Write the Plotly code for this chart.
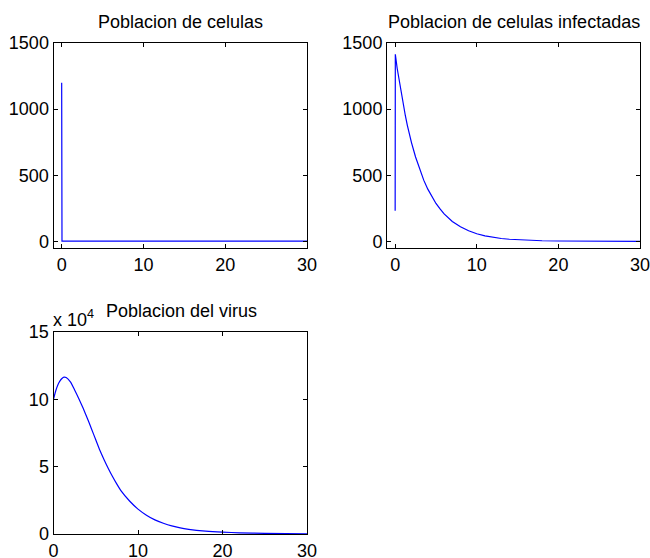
import plotly.graph_objects as go

# ---- data ----
cells_t = [0, 0.04, 2, 5, 10, 15, 20, 25, 30]
cells_v = [1200, 2, 2, 2, 2, 2, 2, 2, 2]

inf_t = [0, 0.02, 0.25, 0.5, 0.75, 1, 1.25, 1.5, 1.75, 2, 2.5, 3, 3.5, 4, 4.5, 5, 5.5, 6,
         7, 8, 9, 10, 11, 12, 13, 14, 16, 18, 20, 22, 25, 30]
inf_v = [231, 1415, 1307, 1210, 1113, 1030, 950, 876, 810, 747, 638, 544, 463, 395, 337, 287,
         245, 208, 151, 110, 80, 58, 42, 31, 22, 16, 9, 5, 3, 2, 1, 0.5]

vir_t = [0, 0.25, 0.5, 0.75, 1, 1.25, 1.5, 2, 2.5, 3, 3.5, 4, 4.5, 5, 5.5, 6, 6.5, 7, 7.5, 8,
         9, 10, 11, 12, 13, 14, 15, 16, 18, 20, 22, 25, 30]
vir_v_e4 = [10.0, 10.6, 11.05, 11.35, 11.55, 11.65, 11.62, 11.3, 10.7, 10.05, 9.35, 8.6, 7.8, 7.0,
            6.2, 5.5, 4.85, 4.25, 3.7, 3.2, 2.45, 1.85, 1.4, 1.05, 0.8, 0.6, 0.45, 0.35, 0.22,
            0.14, 0.09, 0.05, 0.02]

titles = ["Poblacion de celulas", "Poblacion de celulas infectadas", "Poblacion del virus"]
x_ticks = [0, 10, 20, 30]
y_ticks_cells = [0, 500, 1000, 1500]
y_ticks_vir = [0, 5, 10, 15]
vir_scale = 1e4

W, H = 650, 558
FONT = "Liberation Sans, Arial, Helvetica, sans-serif"
BLUE = "#0000ff"
FS = 18

def px(x):
    return x / W

def py(y):
    return 1 - y / H

fig = go.Figure()
fig.add_trace(go.Scatter(x=cells_t, y=cells_v, mode="lines", line=dict(color=BLUE, width=1.2),
                         xaxis="x", yaxis="y", showlegend=False))
fig.add_trace(go.Scatter(x=inf_t, y=inf_v, mode="lines", line=dict(color=BLUE, width=1.2),
                         xaxis="x2", yaxis="y2", showlegend=False))
fig.add_trace(go.Scatter(x=vir_t, y=[v * vir_scale for v in vir_v_e4], mode="lines",
                         line=dict(color=BLUE, width=1.2, shape="spline", smoothing=0.6),
                         xaxis="x3", yaxis="y3", showlegend=False))

common = dict(showline=True, linecolor="black", linewidth=1, mirror="ticks", ticks="inside",
              ticklen=4, tickcolor="black", showgrid=False, zeroline=False, automargin=False,
              ticklabeloverflow="allow",
              tickfont=dict(family=FONT, size=FS, color="black"))

fig.update_layout(
    width=W, height=H, margin=dict(l=0, r=0, t=0, b=0, autoexpand=False),
    paper_bgcolor="white", plot_bgcolor="white",
    xaxis=dict(domain=[px(53.5), px(307)], range=[-1, 30], tickvals=x_ticks, anchor="y", **common),
    yaxis=dict(domain=[py(248), py(43)], range=[-50, 1500], tickvals=y_ticks_cells, anchor="x", **common),
    xaxis2=dict(domain=[px(387), px(640)], range=[-1, 30], tickvals=x_ticks, anchor="y2", **common),
    yaxis2=dict(domain=[py(248), py(43)], range=[-50, 1500], tickvals=y_ticks_cells, anchor="x2", **common),
    xaxis3=dict(domain=[px(53.5), px(307)], range=[0, 30], tickvals=x_ticks, anchor="y3", **common),
    yaxis3=dict(domain=[py(534), py(332)], range=[0, 15 * vir_scale],
                tickvals=[t * vir_scale for t in y_ticks_vir], ticktext=[str(t) for t in y_ticks_vir],
                anchor="x3", **common),
)

tfont = dict(family=FONT, size=FS, color="black")
fig.add_annotation(text=titles[0], x=px(180), y=py(22), xref="paper", yref="paper",
                   xanchor="center", yanchor="middle", showarrow=False, font=tfont)
fig.add_annotation(text=titles[1], x=px(514), y=py(22), xref="paper", yref="paper",
                   xanchor="center", yanchor="middle", showarrow=False, font=tfont)
fig.add_annotation(text=titles[2], x=px(181), y=py(311), xref="paper", yref="paper",
                   xanchor="center", yanchor="middle", showarrow=False, font=tfont)
fig.add_annotation(text="x 10<sup>4</sup>", x=px(51), y=py(318), xref="paper", yref="paper",
                   xanchor="left", yanchor="middle", showarrow=False, font=tfont)

fig.write_html("out.html")
